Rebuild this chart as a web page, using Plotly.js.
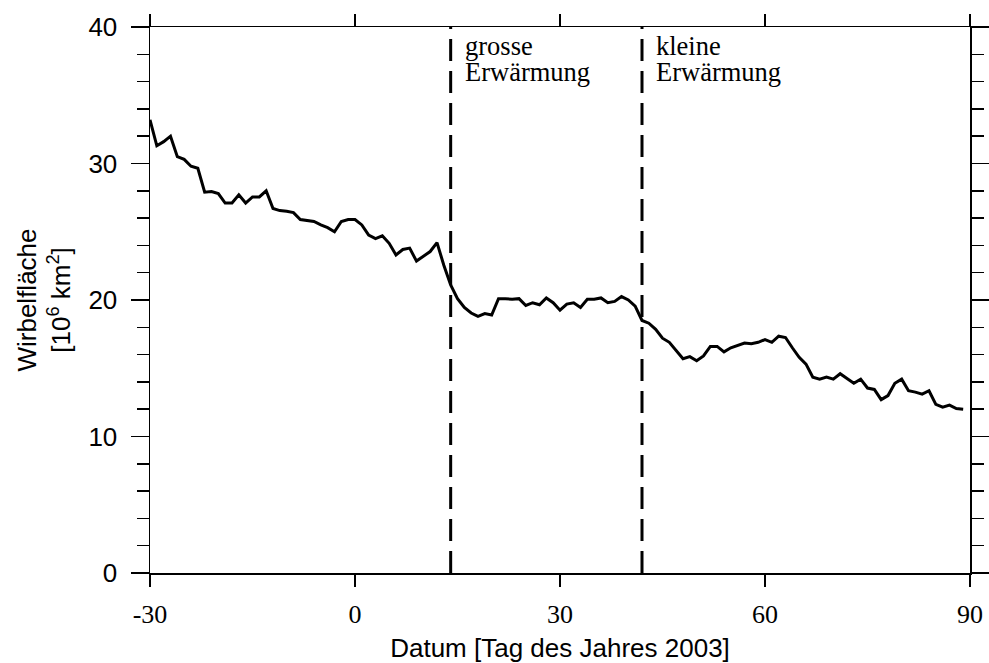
<!DOCTYPE html>
<html>
<head>
<meta charset="utf-8">
<script src="https://cdn.plot.ly/plotly-3.0.1.min.js"></script>
<style>html,body{margin:0;padding:0;background:#fff;}#chart{width:989px;height:663px;}</style>
</head>
<body>
<div id="chart"></div>
<script>
// Day of year 2003 (negative = days before 1 Jan 2003)
const days = [];
for (let d = -30; d <= 89; d++) days.push(d);
// Vortex area [10^6 km^2]
const vortexArea = [
  33.2, 31.3, 31.6, 32.0, 30.5, 30.3, 29.8, 29.65, 27.9, 27.95,
  27.8, 27.1, 27.1, 27.7, 27.1, 27.55, 27.55, 28.0, 26.7, 26.55,
  26.5, 26.4, 25.9, 25.85, 25.75, 25.5, 25.3, 25.0, 25.75, 25.9,
  25.9, 25.5, 24.75, 24.5, 24.7, 24.15, 23.3, 23.7, 23.8, 22.85,
  23.2, 23.55, 24.2, 22.55, 21.1, 20.1, 19.45, 19.05, 18.8, 19.0,
  18.9, 20.1, 20.1, 20.05, 20.1, 19.6, 19.8, 19.65, 20.15, 19.8,
  19.25, 19.7, 19.8, 19.45, 20.05, 20.05, 20.15, 19.8, 19.9, 20.25,
  20.0, 19.55, 18.5, 18.3, 17.85, 17.2, 16.9, 16.3, 15.7, 15.85,
  15.55, 15.9, 16.6, 16.6, 16.2, 16.5, 16.7, 16.85, 16.8, 16.9,
  17.1, 16.9, 17.35, 17.25, 16.5, 15.8, 15.3, 14.35, 14.2, 14.35,
  14.2, 14.6, 14.25, 13.9, 14.2, 13.55, 13.45, 12.7, 13.0, 13.9,
  14.2, 13.35, 13.25, 13.1, 13.35, 12.35, 12.15, 12.3, 12.05, 12.0
];
// Warming events
const warmingDays = [14, 42];
const warmingLine1 = ["grosse", "kleine"];
const warmingLine2 = ["Erwärmung", "Erwärmung"];
// Axis tick labels
const xLabelVals = [-30, 0, 30, 60, 90];
const xLabelText = ["-30", "0", "30", "60", "90"];
const yLabelVals = [0, 10, 20, 30, 40];
const xRange = [-30, 90];
const yRange = [0, 40];

const SANS = "Liberation Sans, Arial, sans-serif";
const SERIF = "Liberation Serif, Times New Roman, serif";

const traces = [];
warmingDays.forEach(d => {
  traces.push({
    x: [d, d], y: yRange, mode: "lines", type: "scatter",
    line: {color: "#000", width: 3, dash: "22px,10px"},
    hoverinfo: "skip", showlegend: false
  });
});
traces.push({
  x: days, y: vortexArea, mode: "lines", type: "scatter",
  line: {color: "#000", width: 3}, showlegend: false
});

const annotations = [];
warmingDays.forEach((d, i) => {
  annotations.push({
    x: d, y: yRange[1], xref: "x", yref: "y", xanchor: "left", yanchor: "top",
    xshift: 12, yshift: -2, showarrow: false, text: warmingLine1[i],
    font: {family: SERIF, size: 26.5, color: "#000"}
  });
  annotations.push({
    x: d, y: yRange[1], xref: "x", yref: "y", xanchor: "left", yanchor: "top",
    xshift: 12, yshift: -28, showarrow: false, text: warmingLine2[i],
    font: {family: SERIF, size: 26.5, color: "#000"}
  });
});

const axCommon = {
  showgrid: false, zeroline: false, showline: true, linecolor: "#000", linewidth: 1.5,
  ticks: "outside", tickcolor: "#000", tickwidth: 1.5, mirror: "ticks"
};

const layout = {
  width: 989, height: 663,
  margin: {l: 150, r: 19, t: 27, b: 90, pad: 0},
  paper_bgcolor: "#fff", plot_bgcolor: "#fff",
  showlegend: false,
  xaxis: Object.assign({}, axCommon, {
    range: xRange, tickmode: "array", tickvals: xLabelVals, ticktext: xLabelText, ticklen: 12,
    ticklabelstandoff: 5,
    tickfont: {family: SERIF, size: 26, color: "#000"},
    title: {text: "Datum [Tag des Jahres 2003]", font: {family: SANS, size: 26, color: "#000"}, standoff: 15}
  }),
  xaxis2: Object.assign({}, axCommon, {
    range: xRange, overlaying: "x", anchor: "y", side: "bottom",
    tickmode: "linear", tick0: 0, dtick: 20, ticklen: 18, showticklabels: false,
    minor: {tickmode: "linear", tick0: 0, dtick: 10, ticklen: 12, ticks: "outside", tickcolor: "#000", tickwidth: 1.5}
  }),
  yaxis: Object.assign({}, axCommon, {
    range: yRange, tickmode: "array", tickvals: yLabelVals, ticklen: 18,
    ticklabelstandoff: 8,
    minor: {tickmode: "linear", tick0: 0, dtick: 2, ticklen: 12, ticks: "outside", tickcolor: "#000", tickwidth: 1.5},
    tickfont: {family: SANS, size: 26, color: "#000"},
    title: {text: "Wirbelfläche<br>[10<sup>6</sup> km<sup>2</sup>]", font: {family: SANS, size: 26, color: "#000"}, standoff: 10}
  }),
  annotations: annotations
};

Plotly.newPlot("chart", traces, layout, {displayModeBar: false, staticPlot: true});
</script>
</body>
</html>
